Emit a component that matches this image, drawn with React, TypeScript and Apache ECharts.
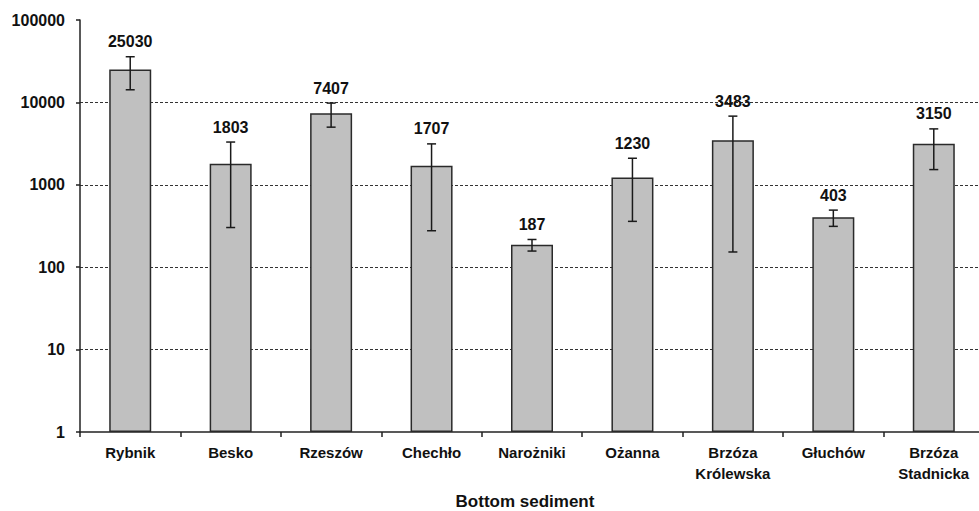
import React, { useEffect, useRef } from "react";
import * as echarts from "echarts";

// Sampling sites (bottom sediment) with mean counts and standard deviations
const sites = [
  "Rybnik",
  "Besko",
  "Rzeszów",
  "Chechło",
  "Narożniki",
  "Ożanna",
  "Brzóza\nKrólewska",
  "Głuchów",
  "Brzóza\nStadnicka",
];
const means = [25030, 1803, 7407, 1707, 187, 1230, 3483, 403, 3150];
const deviations = [10800, 1500, 2400, 1430, 30, 870, 3330, 90, 1620];
const yTicks = [1, 10, 100, 1000, 10000, 100000];

const FONT = "'Liberation Sans', Arial, Helvetica, sans-serif";

export default function App() {
  const ref = useRef<HTMLDivElement>(null);

  useEffect(() => {
    document.body.style.margin = "0";
    document.body.style.overflow = "hidden";
    if (!ref.current) return;
    const chart = echarts.init(ref.current, undefined, { renderer: "svg" });

    const errorData = means.map((m, i) => [i, m, m + deviations[i], m - deviations[i]]);

    chart.setOption({
      animation: false,
      backgroundColor: "#ffffff",
      // fixed plot area; it runs slightly past the right edge so the last category is cropped
      grid: {
        left: 80,
        top: 20,
        height: 412,
        width: 904,
        containLabel: false,
        outerBoundsMode: "none",
      },
      xAxis: {
        type: "category",
        data: sites,
        name: "Bottom sediment",
        nameLocation: "middle",
        nameGap: 61,
        nameTextStyle: {
          fontFamily: FONT,
          fontWeight: "bold",
          fontSize: 17,
          color: "#111",
          padding: [0, 14, 0, 0],
        },
        axisLine: { lineStyle: { color: "#222", width: 1.5 } },
        axisTick: { show: true, length: 5, lineStyle: { color: "#222", width: 1.5 } },
        axisLabel: {
          interval: 0,
          margin: 10,
          fontFamily: FONT,
          fontWeight: "bold",
          fontSize: 15,
          lineHeight: 21,
          color: "#111",
        },
        splitLine: { show: false },
      },
      yAxis: {
        type: "log",
        logBase: 10,
        min: yTicks[0],
        max: yTicks[yTicks.length - 1],
        axisLine: { show: true, lineStyle: { color: "#222", width: 1.5 } },
        axisTick: { show: true, length: 4, lineStyle: { color: "#222", width: 1.5 } },
        minorTick: { show: false },
        axisLabel: {
          margin: 15,
          fontFamily: FONT,
          fontWeight: "bold",
          fontSize: 16,
          color: "#111",
          formatter: (v: number) => String(Math.round(v)),
        },
        splitLine: {
          show: true,
          showMinLine: false,
          showMaxLine: false,
          lineStyle: { color: "#333", width: 1, type: [3, 2] },
        },
      },
      series: [
        {
          type: "bar",
          data: means,
          barWidth: 42,
          itemStyle: { color: "#c0c0c0", borderColor: "#2a2a2a", borderWidth: 1.5 },
          z: 2,
        },
        {
          type: "custom",
          data: errorData,
          z: 5,
          renderItem: (params: any, api: any) => {
            const idx = api.value(0);
            const hi = api.coord([idx, api.value(2)]);
            const lo = api.coord([idx, api.value(3)]);
            const mean = api.value(1);
            const half = 4.5;
            const style = { stroke: "#1a1a1a", lineWidth: 1.5 };
            return {
              type: "group",
              children: [
                { type: "line", shape: { x1: hi[0], y1: hi[1], x2: lo[0], y2: lo[1] }, style },
                { type: "line", shape: { x1: hi[0] - half, y1: hi[1], x2: hi[0] + half, y2: hi[1] }, style },
                { type: "line", shape: { x1: lo[0] - half, y1: lo[1], x2: lo[0] + half, y2: lo[1] }, style },
                {
                  type: "text",
                  x: hi[0],
                  y: hi[1] - 15,
                  style: {
                    text: String(mean),
                    fill: "#111",
                    font: `bold 16px ${FONT}`,
                    align: "center",
                    verticalAlign: "middle",
                  },
                },
              ],
            };
          },
        },
      ],
    });

    return () => chart.dispose();
  }, []);

  return <div ref={ref} style={{ width: 979, height: 511, overflow: "hidden", position: "relative" }} />;
}
